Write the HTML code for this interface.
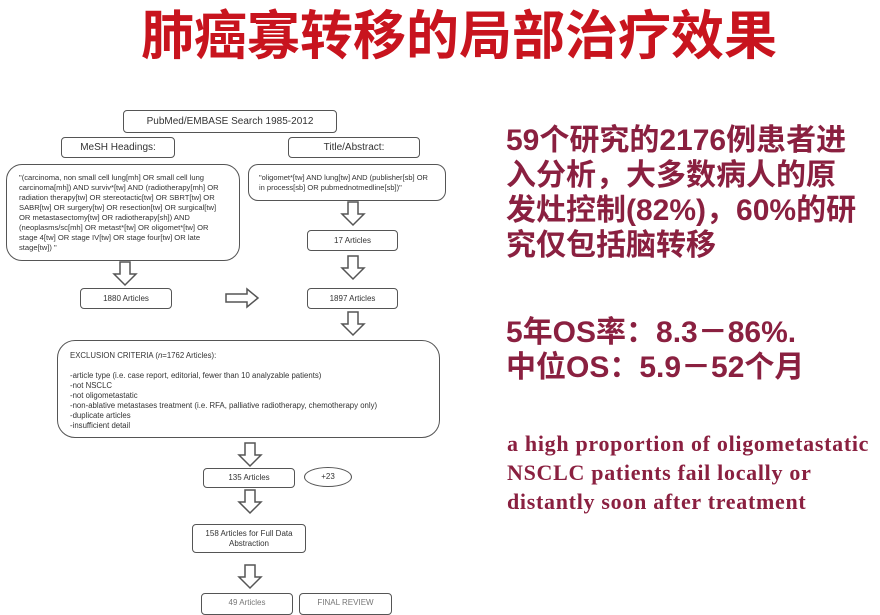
<!DOCTYPE html>
<html><head><meta charset="utf-8"><style>
body{margin:0;width:880px;height:610px;background:#fff;position:relative;overflow:hidden;font-family:"Liberation Sans","Noto Sans CJK SC",sans-serif}
.b{position:absolute;border:1.5px solid #555;border-radius:4px;box-sizing:border-box;font-size:8px;color:#333;display:flex;align-items:center;justify-content:center;text-align:center;line-height:10px;background:#fff}
.t{position:absolute;white-space:nowrap}
.cn{color:#8a2040;font-weight:bold;font-size:30px;line-height:35px;font-family:"Liberation Sans","Noto Sans CJK SC",sans-serif;left:506px}
.en{color:#8a2040;font-weight:bold;font-size:22px;letter-spacing:0.7px;line-height:29px;font-family:"Liberation Serif",serif;left:507px}
</style></head><body>
<div class="t" style="left:0;width:918px;text-align:center;top:6px;font-size:53px;font-weight:bold;color:#c8141e;line-height:62px;font-family:'Liberation Sans','Noto Sans CJK SC',sans-serif">肺癌寡转移的局部治疗效果</div>

<div class="b" style="left:123px;top:110px;width:214px;height:23px;font-size:10px">PubMed/EMBASE Search 1985-2012</div>
<div class="b" style="left:61px;top:137px;width:114px;height:21px;font-size:10px">MeSH Headings:</div>
<div class="b" style="left:288px;top:137px;width:132px;height:21px;font-size:10px">Title/Abstract:</div>
<div class="b" style="left:6px;top:164px;width:234px;height:97px;border-radius:16px;justify-content:flex-start;text-align:left;padding:0 12px;font-size:7.6px">"(carcinoma, non small cell lung[mh] OR small cell lung carcinoma[mh]) AND surviv*[tw] AND (radiotherapy[mh] OR radiation therapy[tw] OR stereotactic[tw] OR SBRT[tw] OR SABR[tw] OR surgery[tw] OR resection[tw] OR surgical[tw] OR metastasectomy[tw] OR radiotherapy[sh]) AND (neoplasms/sc[mh] OR metast*[tw] OR oligomet*[tw] OR stage 4[tw] OR stage IV[tw] OR stage four[tw] OR late stage[tw]) "</div>
<div class="b" style="left:248px;top:164px;width:198px;height:37px;border-radius:10px;justify-content:flex-start;text-align:left;padding:0 10px;font-size:7.5px">"oligomet*[tw] AND lung[tw] AND (publisher[sb] OR in process[sb] OR pubmednotmedline[sb])"</div>
<div class="b" style="left:307px;top:230px;width:91px;height:21px">17 Articles</div>
<div class="b" style="left:307px;top:288px;width:91px;height:21px">1897 Articles</div>
<div class="b" style="left:80px;top:288px;width:92px;height:21px">1880 Articles</div>
<div class="b" style="left:57px;top:340px;width:383px;height:98px;border-radius:18px;justify-content:flex-start;align-items:flex-start;text-align:left;padding:10px 12px;font-size:7.8px;display:block">EXCLUSION CRITERIA (<i>n</i>=1762 Articles):<br><br>-article type (i.e. case report, editorial, fewer than 10 analyzable patients)<br>-not NSCLC<br>-not oligometastatic<br>-non-ablative metastases treatment (i.e. RFA, palliative radiotherapy, chemotherapy only)<br>-duplicate articles<br>-insufficient detail</div>
<div class="b" style="left:203px;top:468px;width:92px;height:20px">135 Articles</div>
<div class="b" style="left:304px;top:467px;width:48px;height:20px;border-radius:50%">+23</div>
<div class="b" style="left:192px;top:524px;width:114px;height:29px">158 Articles for Full Data<br>Abstraction</div>
<div class="b" style="left:201px;top:593px;width:92px;height:22px;align-items:flex-start;padding-top:4px;color:#777">49 Articles</div>
<div class="b" style="left:299px;top:593px;width:93px;height:22px;align-items:flex-start;padding-top:4px;color:#777">FINAL REVIEW</div>

<svg width="880" height="610" style="position:absolute;left:0;top:0" fill="#fff" stroke="#555" stroke-width="1.5">
<defs><path id="d" d="M-5,0 H5 V12 H11 L0,23 L-11,12 H-5 Z"/></defs>
<use href="#d" x="353" y="202"/>
<use href="#d" x="353" y="256"/>
<use href="#d" x="125" y="262"/>
<use href="#d" x="353" y="312"/>
<use href="#d" x="250" y="443"/>
<use href="#d" x="250" y="490"/>
<use href="#d" x="250" y="565"/>
<path d="M226,294 H247 V289 L258,298 L247,307 V302 H226 Z"/>
</svg>

<div class="t cn" style="top:123px">59个研究的2176例患者进<br>入分析，大多数病人的原<br>发灶控制(82%)，60%的研<br>究仅包括脑转移</div>
<div class="t cn" style="top:315px">5年OS率：8.3－86%.<br>中位OS：5.9－52个月</div>
<div class="t en" style="top:429px">a high proportion of oligometastatic<br>NSCLC patients fail locally or<br>distantly soon after treatment</div>
</body></html>
